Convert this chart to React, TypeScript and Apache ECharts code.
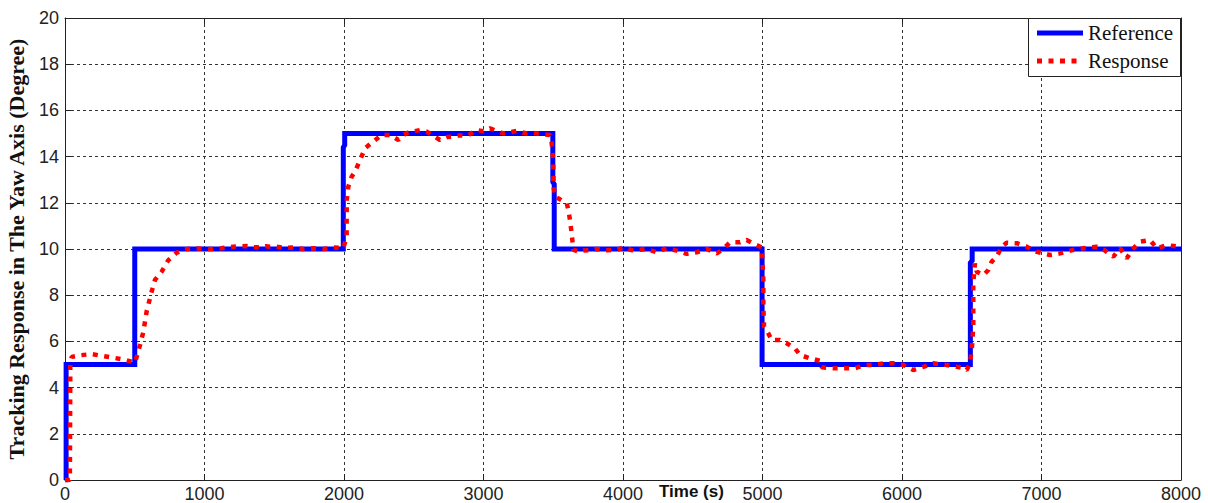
import React, { useEffect, useRef } from "react";
import * as echarts from "echarts";

const xTicks = [0, 1000, 2000, 3000, 4000, 5000, 6000, 7000, 8000];
const yTicks = [0, 2, 4, 6, 8, 10, 12, 14, 16, 18, 20];

const refTime = [0, 8, 8, 500, 500, 1995, 1995, 2005, 2005, 3497, 3497, 3507, 3507, 4997, 4997, 6490, 6490, 6503, 6503, 8000];
const refValue = [0, 0, 5, 5, 10, 10, 14.4, 14.5, 15, 15, 12.9, 12.8, 10, 10, 5, 5, 9.4, 9.5, 10, 10];

const respTime = [
  0, 35, 38, 48, 107, 191, 272, 358, 430, 502, 538, 562, 585, 621, 645, 693, 741, 800, 872, 950,
  1050, 1120, 1205, 1250, 1302, 1350, 1398, 1440, 1470, 1517, 1580, 1637, 1708, 1780, 1852, 1923, 1971, 1995,
  2019, 2019, 2020, 2031, 2055, 2079, 2115, 2151, 2210, 2270, 2330, 2390, 2430, 2461, 2545, 2593, 2640, 2688,
  2740, 2784, 2830, 2880, 2951, 3000, 3047, 3100, 3142, 3190, 3238, 3275, 3310, 3360, 3405, 3477, 3489, 3500,
  3502, 3513, 3548, 3597, 3608, 3620, 3632, 3644, 3692, 3716, 3787, 3811, 3883, 3955, 4002, 4074, 4170, 4242,
  4313, 4385, 4457, 4528, 4600, 4672, 4719, 4767, 4839, 4886, 4946, 4994, 5000, 5006, 5006, 5011, 5030, 5066,
  5125, 5173, 5233, 5269, 5341, 5412, 5424, 5496, 5580, 5663, 5735, 5794, 5866, 5938, 6009, 6081, 6153, 6224,
  6320, 6392, 6440, 6464, 6487, 6500, 6511, 6511, 6511, 6523, 6535, 6583, 6619, 6643, 6679, 6715, 6750, 6822,
  6894, 6965, 7061, 7133, 7228, 7300, 7396, 7450, 7515, 7563, 7611, 7659, 7706, 7778, 7826, 7898, 7981
];
const respValue = [
  0, 0, 5.0, 5.33, 5.4, 5.45, 5.37, 5.28, 5.2, 5.08, 5.85, 6.42, 7.29, 8.15, 8.66, 9.02, 9.52, 9.84, 10.0, 10.02,
  10.0, 10.03, 10.1, 10.12, 10.13, 10.08, 10.07, 10.12, 10.1, 10.1, 10.04, 10.07, 10.0, 10.03, 10.0, 10.07, 10.05, 10.03,
  10.53, 11.4, 12.12, 12.7, 13.13, 13.35, 13.85, 14.36, 14.65, 14.94, 14.94, 14.72, 14.95, 15.04, 15.15, 15.08, 14.9, 14.72,
  14.85, 14.86, 14.92, 14.89, 15.15, 15.1, 15.22, 15.1, 15.0, 15.05, 15.12, 15.05, 15.0, 15.02, 14.98, 14.94, 14.58, 13.71,
  12.7, 12.26, 12.15, 11.98, 11.69, 11.26, 10.68, 9.96, 9.88, 9.93, 9.96, 10.0, 9.95, 9.96, 10.07, 9.93, 10.0, 9.86,
  10.03, 9.93, 9.79, 9.86, 10.0, 9.81, 10.0, 10.29, 10.29, 10.39, 10.2, 10.07, 9.52, 8.66, 7.5, 6.64, 6.49, 6.06,
  6.06, 5.92, 5.7, 5.41, 5.27, 5.16, 4.88, 4.84, 4.84, 4.84, 4.98, 4.98, 5.05, 5.05, 4.98, 4.76, 4.9, 5.05,
  4.98, 4.9, 4.85, 4.76, 5.05, 5.63, 6.64, 7.65, 8.52, 9.38, 9.02, 8.87, 9.09, 9.45, 9.67, 10.1, 10.27, 10.25,
  10.1, 9.88, 9.74, 9.81, 9.96, 10.03, 10.1, 9.95, 9.67, 10.03, 9.6, 10.03, 10.32, 10.39, 10.03, 10.17, 10.1
];

const legendNames = ["Reference", "Response"];
const xName = "Time (s)";
const yName = "Tracking Response in The Yaw Axis (Degree)";

export default function App() {
  const ref = useRef<HTMLDivElement>(null);
  useEffect(() => {
    if (!ref.current) return;
    const chart = echarts.init(ref.current, undefined, { renderer: "svg" });
    const refData = refTime.map((t, i) => [t, refValue[i]]);
    const respData = respTime.map((t, i) => [t, respValue[i]]);
    const sans = "Liberation Sans, Arial, sans-serif";
    const serif = "Liberation Serif, Times New Roman, serif";
    const gridLine = { show: true, lineStyle: { color: "#333", width: 1, type: [3, 3] as any } };
    chart.setOption({
      animation: false,
      backgroundColor: "#fff",
      grid: { left: 65, right: 27, top: 18, bottom: 23, show: false, containLabel: false, outerBoundsMode: "none" },
      xAxis: [
        {
          type: "value", min: xTicks[0], max: xTicks[xTicks.length - 1], interval: 1000, position: "bottom",
          axisLine: { show: true, onZero: false, lineStyle: { color: "#222", width: 1 } },
          axisTick: { show: true, inside: true, length: 6, lineStyle: { color: "#222" } },
          axisLabel: { fontSize: 18, fontFamily: sans, color: "#222", margin: 5, formatter: (v: number) => String(v) },
          splitLine: gridLine,
        },
        {
          type: "value", min: xTicks[0], max: xTicks[xTicks.length - 1], interval: 1000, position: "top",
          axisLine: { show: true, onZero: false, lineStyle: { color: "#222", width: 1 } },
          axisTick: { show: true, inside: true, length: 6, lineStyle: { color: "#222" } },
          axisLabel: { show: false }, splitLine: { show: false },
        },
      ],
      yAxis: [
        {
          type: "value", min: yTicks[0], max: yTicks[yTicks.length - 1], interval: 2, position: "left",
          name: yName, nameLocation: "middle", nameGap: 38, nameRotate: 90,
          nameTextStyle: { fontSize: 22, fontWeight: "bold", fontFamily: serif, color: "#111" },
          axisLine: { show: true, onZero: false, lineStyle: { color: "#222", width: 1 } },
          axisTick: { show: true, inside: true, length: 6, lineStyle: { color: "#222" } },
          axisLabel: { fontSize: 18, fontFamily: sans, color: "#222", margin: 6, formatter: (v: number) => String(v) },
          splitLine: gridLine,
        },
        {
          type: "value", min: yTicks[0], max: yTicks[yTicks.length - 1], interval: 2, position: "right",
          axisLine: { show: true, onZero: false, lineStyle: { color: "#222", width: 1 } },
          axisTick: { show: true, inside: true, length: 6, lineStyle: { color: "#222" } },
          axisLabel: { show: false }, splitLine: { show: false },
        },
      ],
      series: [
        {
          name: legendNames[0], type: "line", data: refData, showSymbol: false, z: 2,
          lineStyle: { color: "#0000ff", width: 5, join: "miter" },
        },
        {
          name: legendNames[1], type: "line", data: respData, showSymbol: false, z: 3,
          lineStyle: { color: "#ff0000", width: 4.5, type: [5, 6.5], cap: "butt" },
        },
      ],
      graphic: [
        {
          type: "text", left: 659, top: 483, z: 10,
          style: { text: xName, font: `bold 17px ${sans}`, fill: "#111" },
        },
        {
          type: "group", z: 100,
          children: [
            { type: "rect", shape: { x: 1028.5, y: 18.5, width: 152, height: 58 }, style: { fill: "#fff", stroke: "#222", lineWidth: 1 }, z: 100 },
            { type: "line", shape: { x1: 1037, y1: 33, x2: 1083, y2: 33 }, style: { stroke: "#0000ff", lineWidth: 5 }, z: 101 },
            { type: "line", shape: { x1: 1037, y1: 61, x2: 1080, y2: 61 }, style: { stroke: "#ff0000", lineWidth: 5, lineDash: [5, 6.5] }, z: 101 },
            { type: "text", x: 1088, y: 33, style: { text: legendNames[0], font: `21px ${serif}`, fill: "#111", verticalAlign: "middle" }, z: 101 },
            { type: "text", x: 1088, y: 61, style: { text: legendNames[1], font: `21px ${serif}`, fill: "#111", verticalAlign: "middle" }, z: 101 },
          ],
        },
      ],
    });
    return () => chart.dispose();
  }, []);
  return <div ref={ref} style={{ position: "fixed", left: 0, top: 0, width: 1208, height: 503, background: "#fff" }} />;
}
